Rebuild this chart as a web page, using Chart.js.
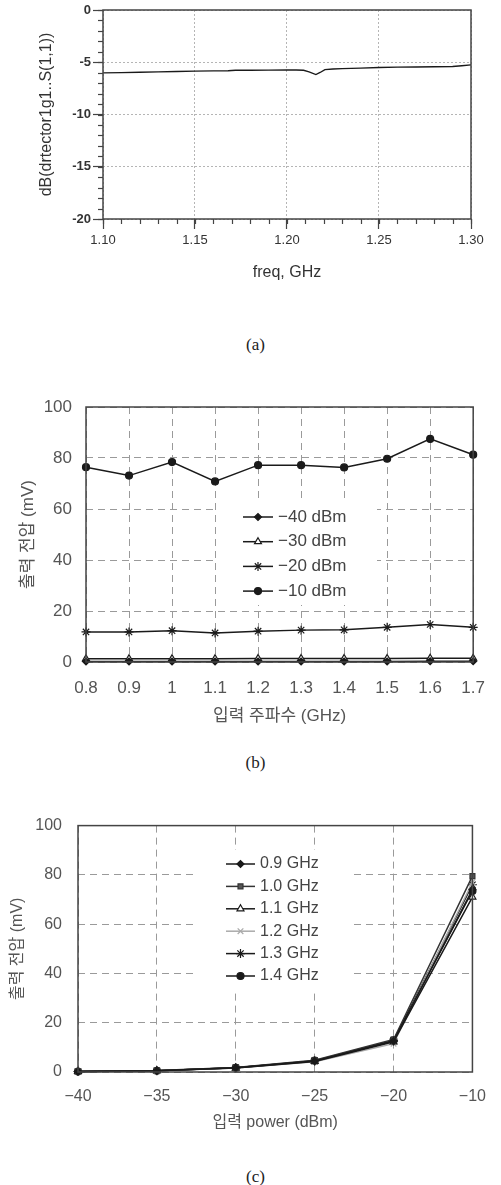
<!DOCTYPE html>
<html><head><meta charset="utf-8">
<script src="https://cdn.jsdelivr.net/npm/chart.js@4.4.0/dist/chart.umd.min.js"></script>
<style>
html,body{margin:0;padding:0;background:#fff;}
body{width:501px;height:1185px;position:relative;overflow:hidden;}
canvas{position:absolute;left:0;}
.cap{position:absolute;left:5px;width:501px;text-align:center;font-family:"Liberation Serif","DejaVu Serif",serif;font-size:17px;color:#222;line-height:20px;}
</style></head><body>
<canvas id="ca" width="501" height="300" style="top:0"></canvas>
<div class="cap" style="top:335px">(a)</div>
<canvas id="cb" width="501" height="360" style="top:380px"></canvas>
<div class="cap" style="top:753px">(b)</div>
<canvas id="cc" width="501" height="340" style="top:800px"></canvas>
<div class="cap" style="top:1167px">(c)</div>
<script>
// ---------- data (a) ----------
const freqA = [1.100,1.110,1.120,1.130,1.140,1.150,1.160,1.168,1.172,1.180,1.190,1.200,1.205,1.209,1.212,1.2157,1.218,1.2206,1.225,1.230,1.240,1.250,1.260,1.270,1.280,1.290,1.295,1.300];
const s11A  = [-6.02,-5.99,-5.96,-5.92,-5.88,-5.85,-5.83,-5.82,-5.77,-5.76,-5.75,-5.74,-5.74,-5.77,-5.92,-6.18,-5.98,-5.7,-5.64,-5.61,-5.56,-5.5,-5.47,-5.45,-5.43,-5.4,-5.33,-5.25];
const yTicksA = [0,-5,-10,-15,-20];

// ---------- data (b) ----------
const freqB = ['0.8','0.9','1','1.1','1.2','1.3','1.4','1.5','1.6','1.7'];
const bLabels = ['\u221240 dBm','\u221230 dBm','\u221220 dBm','\u221210 dBm'];
const bM40 = [0.2,0.2,0.2,0.2,0.2,0.2,0.2,0.2,0.3,0.3];
const bM30 = [1.3,1.3,1.3,1.3,1.4,1.4,1.4,1.4,1.5,1.5];
const bM20 = [11.8,11.8,12.3,11.4,12.1,12.5,12.6,13.6,14.7,13.6];
const bM10 = [76.4,73.1,78.4,70.8,77.2,77.2,76.3,79.7,87.5,81.3];

// ---------- data (c) ----------
const powerC = ['\u221240','\u221235','\u221230','\u221225','\u221220','\u221210'];
const cLabels = ['0.9 GHz','1.0 GHz','1.1 GHz','1.2 GHz','1.3 GHz','1.4 GHz'];
const c09 = [0.2,0.5,1.7,4.5,12.5,74.0];
const c10 = [0.3,0.6,1.8,4.8,13.2,79.5];
const c11 = [0.2,0.5,1.6,4.3,12.2,71.0];
const c12 = [0.2,0.5,1.6,4.2,11.5,77.0];
const c13 = [0.2,0.5,1.7,4.4,12.6,76.0];
const c14 = [0.2,0.5,1.7,4.6,12.8,73.5];

const SANS = "'Liberation Sans','Noto Sans CJK KR','Noto Sans',sans-serif";

// ---------- plugins ----------
const boxPlugin = {id:'box', afterDraw(chart, args, o){
  if(!o || !o.enabled) return;
  const {ctx, chartArea:a} = chart;
  ctx.save(); ctx.strokeStyle=o.color; ctx.lineWidth=o.width;
  ctx.strokeRect(a.left, a.top, a.right-a.left, a.bottom-a.top);
  ctx.restore();
}};
const minorPlugin = {id:'minorTicks', afterDraw(chart, args, o){
  if(!o || !o.enabled) return;
  const {ctx, chartArea:a} = chart; const xs = chart.scales.x, ys = chart.scales.y;
  ctx.save(); ctx.strokeStyle=o.color; ctx.lineWidth=o.width;
  for(let k=Math.round(xs.min/o.xStep); k*o.xStep <= xs.max+1e-9; k++){
    const px = Math.round(xs.getPixelForValue(k*o.xStep))+0.5;
    ctx.beginPath(); ctx.moveTo(px, a.bottom); ctx.lineTo(px, a.bottom+o.len); ctx.stroke();
  }
  for(let k=Math.round(ys.min/o.yStep); k*o.yStep <= ys.max+1e-9; k++){
    const py = Math.round(ys.getPixelForValue(k*o.yStep))+0.5;
    ctx.beginPath(); ctx.moveTo(a.left, py); ctx.lineTo(a.left-o.len, py); ctx.stroke();
  }
  ctx.restore();
}};
const legendPlugin = {id:'inLegend', beforeDatasetsDraw(chart, args, o){
  if(!o || !o.enabled) return;
  const ctx = chart.ctx;
  ctx.save();
  ctx.fillStyle = '#fff';
  ctx.fillRect(o.box[0], o.box[1], o.box[2], o.box[3]);
  ctx.font = o.size + 'px ' + SANS;
  chart.data.datasets.forEach((d, i) => {
    const y = o.y0 + i*o.dy;
    ctx.strokeStyle = d.borderColor; ctx.lineWidth = d.borderWidth;
    ctx.beginPath(); ctx.moveTo(o.x0, y); ctx.lineTo(o.x0+o.len, y); ctx.stroke();
    ctx.fillStyle = d.pointBackgroundColor; ctx.strokeStyle = d.pointBorderColor; ctx.lineWidth = d.pointBorderWidth;
    if (Chart.helpers && Chart.helpers.drawPoint) {
      Chart.helpers.drawPoint(ctx, {pointStyle:d.pointStyle, radius:d.pointRadius, rotation:0, borderWidth:d.pointBorderWidth}, o.x0+o.len/2, y);
    }
    ctx.fillStyle = o.color; ctx.textBaseline = 'middle'; ctx.textAlign = 'left';
    ctx.fillText(d.label, o.tx, y);
  });
  ctx.restore();
}};
Chart.register(boxPlugin, minorPlugin, legendPlugin);

function ser(label, data, ps, r, color, fill, lw){
  return {label, data, borderColor:color, borderWidth:lw||1.5, pointStyle:ps, pointRadius:r,
    pointBackgroundColor:fill, pointBorderColor:color, pointBorderWidth:1.2, tension:0, fill:false, clip:false};
}

// ---------- chart (a) ----------
new Chart(document.getElementById('ca'), {
  type:'line',
  data:{datasets:[{data:freqA.map((f,i)=>({x:f, y:s11A[i]})), borderColor:'#1a1a1a', borderWidth:1.4, pointRadius:0, tension:0}]},
  options:{
    responsive:false, animation:false, events:[],
    layout:{padding:{top:10, right:30, left:0, bottom:0}},
    plugins:{legend:{display:false}, tooltip:{enabled:false},
      box:{enabled:true, color:'#444', width:1.5},
      minorTicks:{enabled:true, xStep:0.01, yStep:1, len:5, color:'#444', width:1.2}},
    scales:{
      x:{type:'linear', min:1.10, max:1.30,
        afterBuildTicks:s=>{ s.ticks = [1.10,1.15,1.20,1.25,1.30].map(v=>({value:v})); },
        ticks:{callback:v=>Number(v).toFixed(2), font:{family:SANS, size:13}, color:'#333', padding:4, maxRotation:0, autoSkip:false},
        grid:{color:'#b5b5b5', lineWidth:1, tickLength:10, tickColor:'#444', tickWidth:1.2},
        border:{display:false, dash:[2,2]},
        title:{display:true, text:'freq, GHz', font:{family:SANS, size:16}, color:'#333', padding:{top:0, bottom:18}},
        afterFit:s=>{ s.height = 81; }},
      y:{type:'linear', min:-20, max:0,
        afterBuildTicks:s=>{ s.ticks = yTicksA.slice().reverse().map(v=>({value:v})); },
        ticks:{font:{family:SANS, size:13, weight:'bold'}, color:'#333', padding:2},
        grid:{color:'#b5b5b5', lineWidth:1, tickLength:10, tickColor:'#444', tickWidth:1.2},
        border:{display:false, dash:[2,2]},
        title:{display:true, text:'dB(drtector1g1..S(1,1))', font:{family:SANS, size:16}, color:'#333', padding:{top:37, bottom:0}},
        afterFit:s=>{ s.width = 103; }}
    }
  }
});

// ---------- chart (b) ----------
new Chart(document.getElementById('cb'), {
  type:'line',
  data:{labels:freqB, datasets:[
    ser(bLabels[0], bM40, 'rectRot', 3.5, '#1a1a1a', '#1a1a1a'),
    ser(bLabels[1], bM30, 'triangle', 4, '#1a1a1a', '#ffffff'),
    ser(bLabels[2], bM20, 'star', 4.5, '#1a1a1a', '#1a1a1a'),
    ser(bLabels[3], bM10, 'circle', 3.5, '#1a1a1a', '#1a1a1a')
  ]},
  options:{
    responsive:false, animation:false, events:[],
    layout:{padding:{top:27, right:13, left:0, bottom:0}},
    plugins:{legend:{display:false}, tooltip:{enabled:false},
      box:{enabled:true, color:'#444', width:1.5},
      inLegend:{enabled:true, box:[217,120,160,105], x0:243, len:30, tx:278, y0:137, dy:24.7, size:17, color:'#444'}},
    scales:{
      x:{type:'category', offset:false,
        ticks:{font:{family:SANS, size:17}, color:'#555', padding:16, maxRotation:0, autoSkip:false},
        grid:{color:'#9a9a9a', lineWidth:1, drawTicks:false},
        border:{display:false, dash:[7,5]},
        title:{display:true, text:'입력 주파수 (GHz)', font:{family:SANS, size:17}, color:'#555', padding:{top:0, bottom:13}},
        afterFit:s=>{ s.height = 78; }},
      y:{type:'linear', min:0, max:100,
        ticks:{stepSize:20, font:{family:SANS, size:17}, color:'#555', padding:14},
        grid:{color:'#9a9a9a', lineWidth:1, drawTicks:false},
        border:{display:false, dash:[7,5]},
        title:{display:true, text:'출력 전압 (mV)', font:{family:SANS, size:17}, color:'#555', padding:{top:18, bottom:0}},
        afterFit:s=>{ s.width = 86; }}
    }
  }
});

// ---------- chart (c) ----------
new Chart(document.getElementById('cc'), {
  type:'line',
  data:{labels:powerC, datasets:[
    ser(cLabels[0], c09, 'rectRot', 3.5, '#1a1a1a', '#1a1a1a'),
    ser(cLabels[1], c10, 'rect', 3.5, '#333', '#555'),
    ser(cLabels[2], c11, 'triangle', 4, '#1a1a1a', '#ffffff'),
    ser(cLabels[3], c12, 'crossRot', 4, '#aaaaaa', '#aaaaaa'),
    ser(cLabels[4], c13, 'star', 4.5, '#1a1a1a', '#1a1a1a'),
    ser(cLabels[5], c14, 'circle', 3.5, '#1a1a1a', '#1a1a1a')
  ]},
  options:{
    responsive:false, animation:false, events:[],
    layout:{padding:{top:18, right:17, left:0, bottom:0}},
    plugins:{legend:{display:false}, tooltip:{enabled:false},
      box:{enabled:true, color:'#444', width:1.5},
      inLegend:{enabled:true, box:[193,50,157,140], x0:226, len:29, tx:260, y0:64, dy:22.4, size:16, color:'#444'}},
    scales:{
      x:{type:'category', offset:false,
        ticks:{font:{family:SANS, size:16}, color:'#555', padding:15, maxRotation:0, autoSkip:false},
        grid:{color:'#9a9a9a', lineWidth:1, drawTicks:false},
        border:{display:false, dash:[7,5]},
        title:{display:true, text:'입력 power (dBm)', font:{family:SANS, size:16}, color:'#555', padding:{top:0, bottom:8}},
        afterFit:s=>{ s.height = 68; }},
      y:{type:'linear', min:0, max:100,
        ticks:{stepSize:20, font:{family:SANS, size:16}, color:'#555', padding:16},
        grid:{color:'#9a9a9a', lineWidth:1, drawTicks:false},
        border:{display:false, dash:[7,5]},
        title:{display:true, text:'출력 전압 (mV)', font:{family:SANS, size:16}, color:'#555', padding:{top:8, bottom:0}},
        afterFit:s=>{ s.width = 78; }}
    }
  }
});
</script>
</body></html>
